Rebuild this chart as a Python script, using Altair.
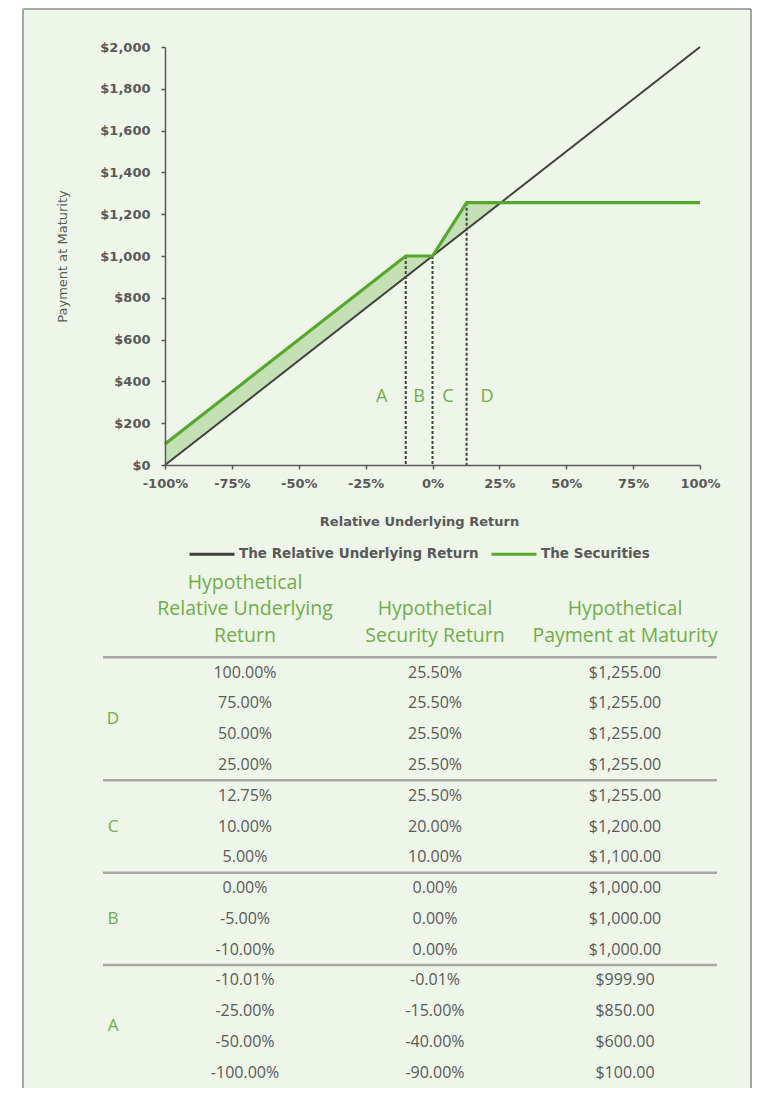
import altair as alt
import pandas as pd

# ---------------- data ----------------
underlying_x = [-1.0, 1.0]
underlying_pay = [0, 2000]

securities_x = [-1.0, -0.10, 0.0, 0.1275, 1.0]
securities_pay = [100, 1000, 1000, 1255, 1255]

shade_x = [-1.0, -0.10, 0.0, 0.1275, 0.255]
shade_low = [0, 900, 1000, 1127.5, 1255]
shade_high = [100, 1000, 1000, 1255, 1255]

boundary_x = [-0.10, 0.0, 0.1275]
boundary_pay = [1000, 1000, 1255]
boundary_base = [0, 0, 0]

zone_names = ["A", "B", "C", "D"]
zone_x = [-0.19, -0.05, 0.058, 0.204]
zone_pay = [325, 325, 325, 325]

series_names = ["The Relative Underlying Return", "The Securities"]

x_ticks = [-1.0, -0.75, -0.5, -0.25, 0.0, 0.25, 0.5, 0.75, 1.0]
y_ticks = [0, 200, 400, 600, 800, 1000, 1200, 1400, 1600, 1800, 2000]

table_groups = ["D", "D", "D", "D", "C", "C", "C", "B", "B", "B", "A", "A", "A", "A"]
table_underlying = ["100.00%", "75.00%", "50.00%", "25.00%", "12.75%", "10.00%", "5.00%",
                    "0.00%", "-5.00%", "-10.00%", "-10.01%", "-25.00%", "-50.00%", "-100.00%"]
table_security = ["25.50%", "25.50%", "25.50%", "25.50%", "25.50%", "20.00%", "10.00%",
                  "0.00%", "0.00%", "0.00%", "-0.01%", "-15.00%", "-40.00%", "-90.00%"]
table_payment = ["$1,255.00", "$1,255.00", "$1,255.00", "$1,255.00", "$1,255.00", "$1,200.00",
                 "$1,100.00", "$1,000.00", "$1,000.00", "$1,000.00", "$999.90", "$850.00",
                 "$600.00", "$100.00"]
table_columns = ["underlying", "security", "payment"]
# header lines, bottom-aligned (a blank first line for the two-line headers)
table_headers = ["Hypothetical\nRelative Underlying\nReturn",
                 "\nHypothetical\nSecurity Return",
                 "\nHypothetical\nPayment at Maturity"]

# ---------------- styles ----------------
BG = "#eef6ea"
FRAME = "#a6a6a6"
GREEN_TXT = "#70ad47"
GREEN_LINE = "#55a82b"
SHADE = "#c5e0b4"
DARK = "#404040"
AXIS = "#595959"
TABLE_FONT = "Open Sans"
AXIS_FONT = "DejaVu Sans"

W, H = 535, 418

xs = alt.Scale(domain=[-1, 1], nice=False, zero=False)
ys = alt.Scale(domain=[0, 2000], nice=False)

x_axis = alt.Axis(values=x_ticks, format=".0%", labelExpr="replace(datum.label, '\u2212', '-')",
                  title="Relative Underlying Return", tickSize=4, labelPadding=8,
                  titlePadding=25, titleFontSize=13, titleFontWeight="bold", titleX=254,
                  labelFlush=False, labelOverlap=False, zindex=2)
y_axis = alt.Axis(values=y_ticks, format="$,.0f", title="Payment at Maturity", tickSize=4,
                  labelPadding=11, titlePadding=30, titleFontSize=13, labelFlush=False,
                  labelOverlap=False, zindex=2)

X = alt.X("x:Q", scale=xs, axis=x_axis)
Y = alt.Y("pay:Q", scale=ys, axis=y_axis)

color = alt.Color(
    "series:N",
    scale=alt.Scale(domain=series_names, range=[DARK, GREEN_LINE]),
    legend=alt.Legend(orient="none", legendX=23, legendY=483, direction="horizontal",
                      title=None, symbolType="stroke", symbolSize=2025, symbolStrokeWidth=3,
                      labelFont=AXIS_FONT, labelFontSize=13.5, labelFontWeight="bold",
                      labelColor=AXIS, labelLimit=0,
                      columnPadding=6, labelOffset=3, padding=0, zindex=2),
)

one = pd.DataFrame({"k": [0]})
frame = alt.Chart(one).mark_rect(fill=BG, clip=False).encode(
    x=alt.value(-142), x2=alt.value(586), y=alt.value(-38), y2=alt.value(1041))
edge_left = alt.Chart(one).mark_rule(color=FRAME, strokeWidth=2).encode(
    x=alt.value(-142), y=alt.value(-38), y2=alt.value(1041))
edge_right = alt.Chart(one).mark_rule(color=FRAME, strokeWidth=2).encode(
    x=alt.value(586), y=alt.value(-38), y2=alt.value(1041))
edge_top = alt.Chart(one).mark_rule(color=FRAME, strokeWidth=2).encode(
    x=alt.value(-142), x2=alt.value(586), y=alt.value(-38))

shade_df = pd.DataFrame({"x": shade_x, "pay": shade_low, "pay2": shade_high})
shade = alt.Chart(shade_df).mark_area(color=SHADE, opacity=1).encode(
    x=X, y=Y, y2="pay2:Q")

bound_df = pd.DataFrame({"x": boundary_x, "pay": boundary_pay, "base": boundary_base})
bounds = alt.Chart(bound_df).mark_rule(color=DARK, strokeWidth=2, strokeDash=[3, 2]).encode(
    x=X, y=Y, y2="base:Q")

under_df = pd.DataFrame({"x": underlying_x, "pay": underlying_pay,
                         "series": [series_names[0]] * len(underlying_x)})
under_line = alt.Chart(under_df).mark_line(strokeWidth=2).encode(x=X, y=Y, color=color)

sec_df = pd.DataFrame({"x": securities_x, "pay": securities_pay,
                       "series": [series_names[1]] * len(securities_x)})
sec_line = alt.Chart(sec_df).mark_line(strokeWidth=3.2).encode(x=X, y=Y, color=color)

zone_df = pd.DataFrame({"x": zone_x, "pay": zone_pay, "name": zone_names})
zones = alt.Chart(zone_df).mark_text(font=TABLE_FONT, fontSize=18, color=GREEN_TXT,
                                     baseline="middle").encode(x=X, y=Y, text="name:N")

top = alt.layer(frame, edge_left, edge_right, edge_top, shade, bounds, under_line, sec_line,
                zones).properties(width=W, height=H)

# ---------------- table ----------------
tdf = pd.DataFrame({"group": table_groups, "underlying": table_underlying,
                    "security": table_security, "payment": table_payment})
tdf["row"] = list(range(len(tdf)))

col_scale = alt.Scale(type="point", domain=["group"] + table_columns, range=[-110, 460],
                      padding=0)
row_scale = alt.Scale(domain=[-3.5, 13.5], reverse=True, nice=False, zero=False)

body = alt.Chart(tdf).transform_fold(table_columns, as_=["col", "value"]).mark_text(
    font=TABLE_FONT, fontSize=16, color=AXIS, baseline="middle").encode(
    x=alt.X("col:N", scale=col_scale, axis=None),
    y=alt.Y("row:Q", scale=row_scale, axis=None),
    text="value:N")

seps = alt.Chart(tdf).transform_aggregate(start="min(row)", groupby=["group"]).transform_calculate(
    sep="datum.start - 0.5").mark_rule(color=FRAME, strokeWidth=2.5).encode(
    y=alt.Y("sep:Q", scale=row_scale, axis=None), x=alt.value(-62), x2=alt.value(552))

group_lbl = alt.Chart(tdf).transform_aggregate(mid="mean(row)", groupby=["group"]).transform_calculate(
    col="'group'").mark_text(font=TABLE_FONT, fontSize=17, color=GREEN_TXT, baseline="middle",
                             dx=58).encode(
    x=alt.X("col:N", scale=col_scale, axis=None),
    y=alt.Y("mid:Q", scale=row_scale, axis=None),
    text="group:N")

header_row = -2.92
hdf = pd.DataFrame({"col": table_columns, "header": table_headers,
                    "hrow": [header_row] * len(table_columns)})
headers = alt.Chart(hdf).mark_text(font=TABLE_FONT, fontSize=19.5, color=GREEN_TXT,
                                   baseline="middle", lineBreak="\n", lineHeight=26.5).encode(
    x=alt.X("col:N", scale=col_scale, axis=None),
    y=alt.Y("hrow:Q", scale=row_scale, axis=None),
    text="header:N")

table = alt.layer(seps, headers, body, group_lbl).properties(width=552, height=523)

chart = alt.vconcat(top, table, spacing=100, bounds="flush").properties(
    padding={"left": 14, "top": 0, "right": 0, "bottom": 0},
    background="white",
).configure_view(strokeWidth=0).configure_axis(
    labelFont=AXIS_FONT, labelFontSize=13, labelFontWeight="bold", labelColor=AXIS,
    titleFont=AXIS_FONT, titleColor=AXIS, titleFontWeight="normal",
    domainColor=AXIS, tickColor=AXIS, domainWidth=1.5, tickWidth=1.5, grid=False,
)

chart.save("out.html", embed_options={"renderer": "svg", "actions": False})
